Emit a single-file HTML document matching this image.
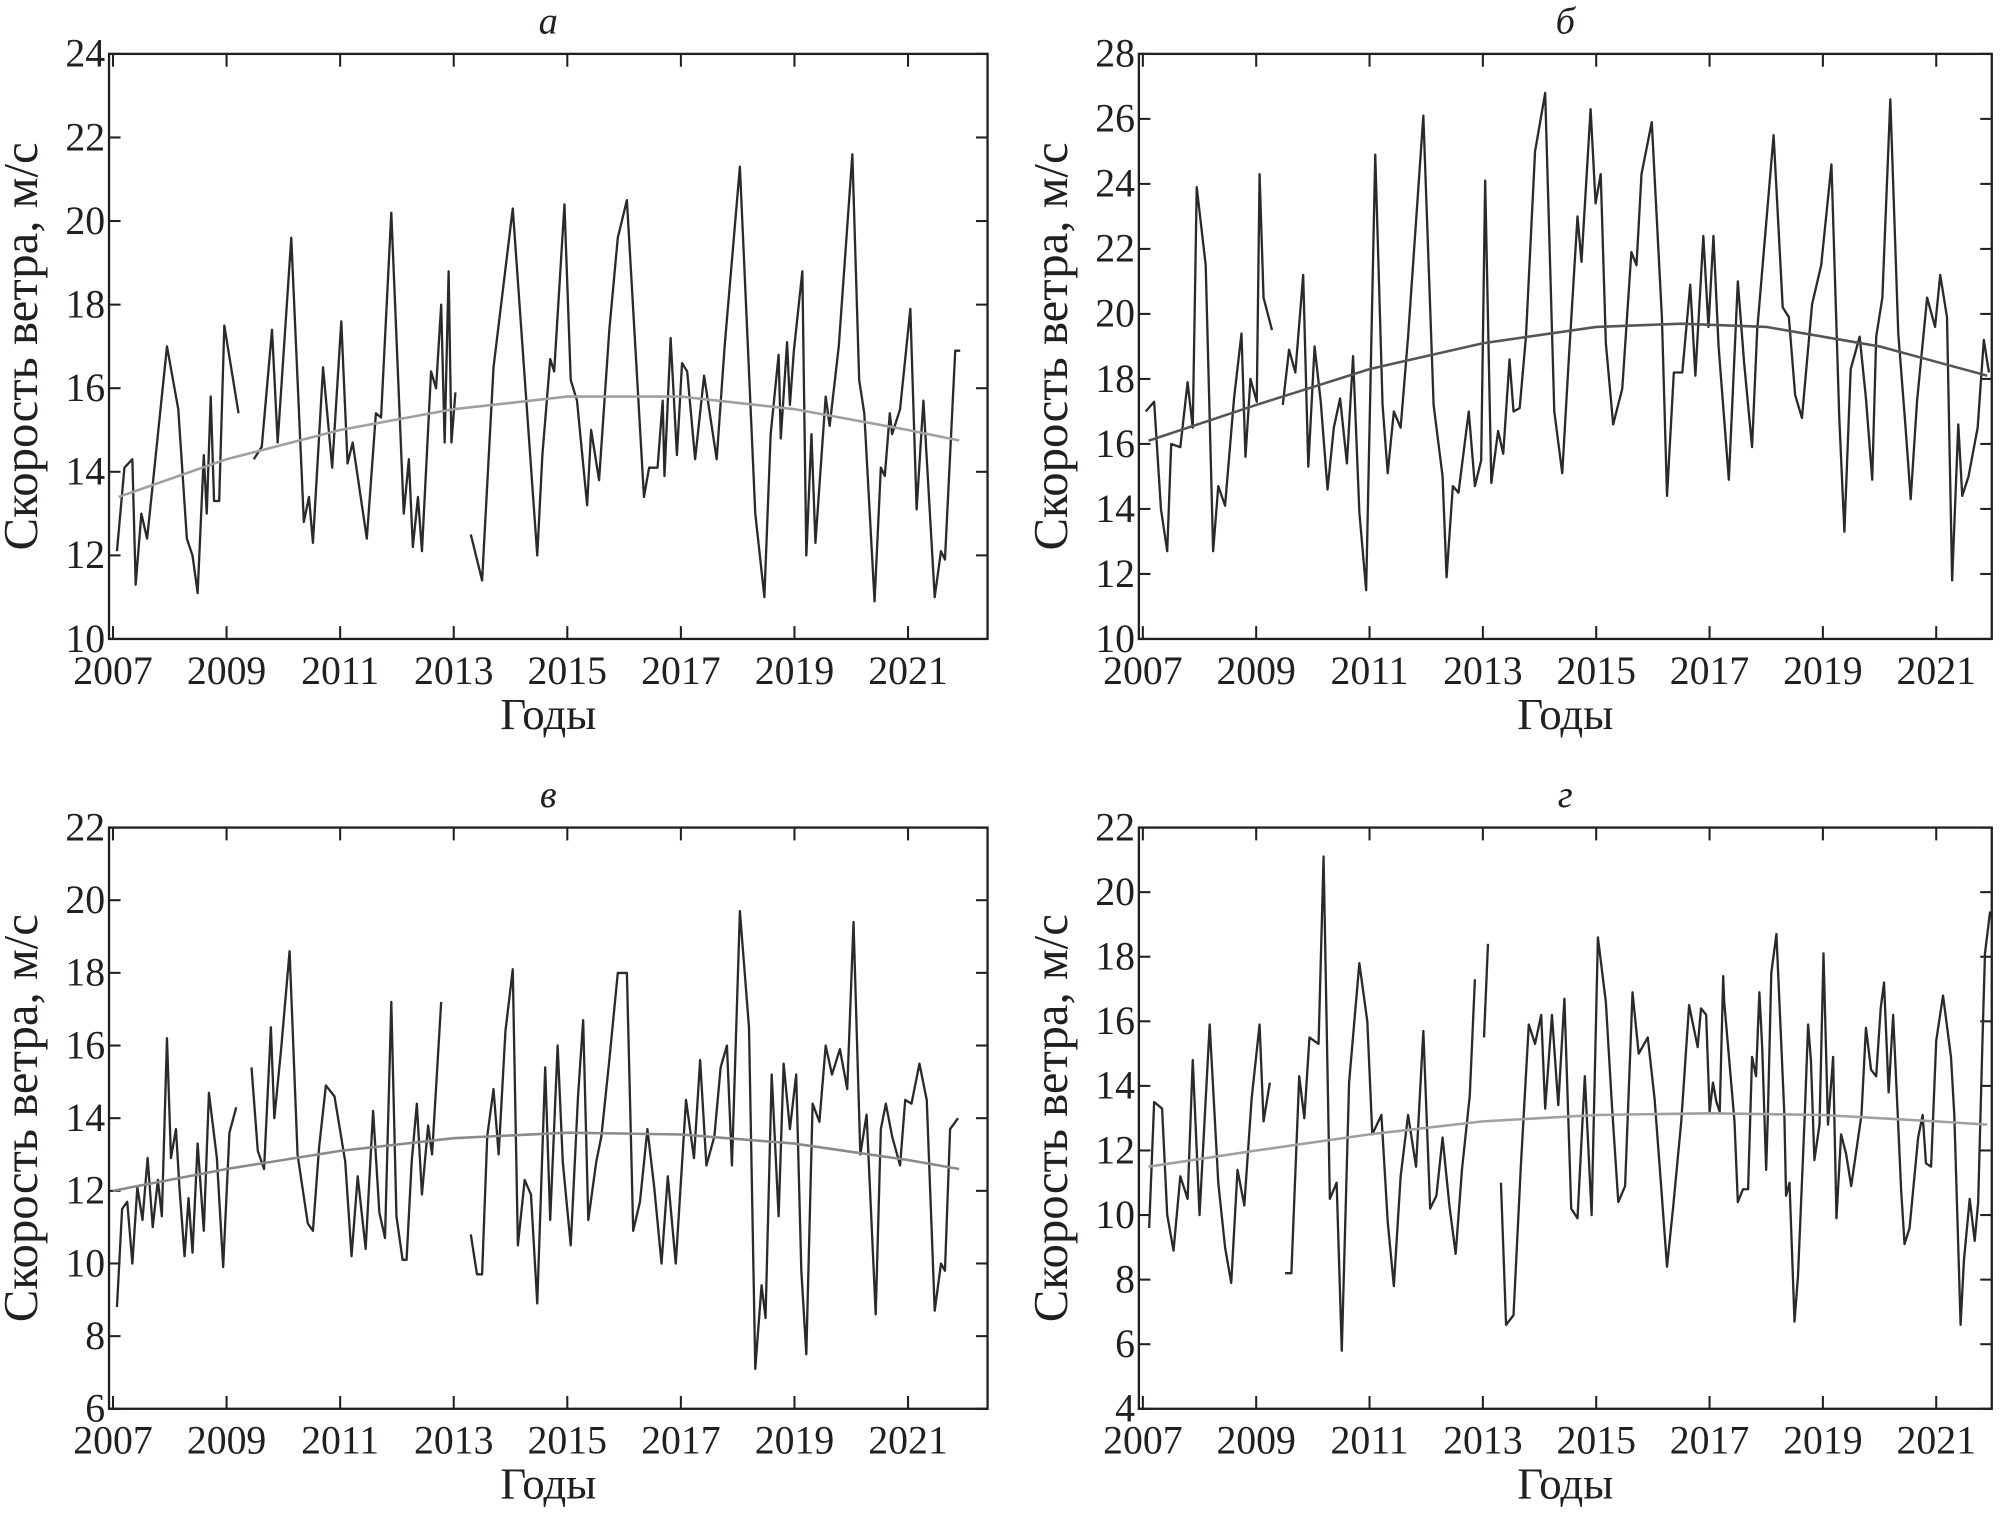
<!DOCTYPE html>
<html><head><meta charset="utf-8"><style>
html,body{margin:0;padding:0;background:#fff}
svg{display:block}
text{font-family:"Liberation Serif",serif;fill:#231f20}
</style></head><body>
<svg id="chart" width="2011" height="1514" viewBox="0 0 1568 1180" preserveAspectRatio="none" xmlns="http://www.w3.org/2000/svg"></svg>
<script>
// years offset from 2007, wind speed m/s; null = gap
const seriesA=[[0.07,12.1],[0.2,14.1],[0.34,14.3],[0.4,11.3],[0.5,13.0],[0.6,12.4],[0.7,13.7],[0.95,17.0],[1.15,15.5],[1.3,12.4],[1.4,12.0],[1.49,11.1],[1.6,14.4],[1.65,13.0],[1.72,15.8],[1.78,13.3],[1.87,13.3],[1.96,17.5],[2.21,15.4],null,[2.48,14.3],[2.62,14.6],[2.8,17.4],[2.9,14.7],[3.14,19.6],[3.36,12.8],[3.45,13.4],[3.52,12.3],[3.7,16.5],[3.86,14.1],[4.02,17.6],[4.13,14.2],[4.22,14.7],[4.47,12.4],[4.63,15.4],[4.72,15.3],[4.9,20.2],[5.12,13.0],[5.21,14.3],[5.28,12.2],[5.37,13.4],[5.44,12.1],[5.6,16.4],[5.69,16.0],[5.78,18.0],[5.84,14.7],[5.91,18.8],[5.96,14.7],[6.03,15.9],null,[6.3,12.5],[6.5,11.4],[6.7,16.5],[7.04,20.3],[7.47,12.0],[7.56,14.4],[7.7,16.7],[7.77,16.4],[7.95,20.4],[8.06,16.2],[8.17,15.7],[8.35,13.2],[8.42,15.0],[8.56,13.8],[8.74,17.4],[8.89,19.6],[9.05,20.5],[9.35,13.4],[9.44,14.1],[9.59,14.1],[9.68,15.7],[9.71,13.9],[9.82,17.2],[9.93,14.4],[10.02,16.6],[10.11,16.4],[10.25,14.3],[10.41,16.3],[10.63,14.3],[10.77,17.0],[11.04,21.3],[11.31,13.0],[11.47,11.0],[11.58,14.9],[11.72,16.8],[11.76,14.8],[11.87,17.1],[11.92,15.6],[11.99,16.9],[12.14,18.8],[12.21,12.0],[12.3,14.9],[12.37,12.3],[12.55,15.8],[12.62,15.1],[12.78,17.0],[13.02,21.6],[13.14,16.2],[13.23,15.4],[13.41,10.9],[13.52,14.1],[13.59,13.9],[13.68,15.4],[13.72,14.9],[13.86,15.5],[14.04,17.9],[14.15,13.1],[14.27,15.7],[14.47,11.0],[14.58,12.1],[14.65,11.9],[14.83,16.9],[14.92,16.9]];
const trendA=[[0.1,13.4],[2,14.3],[4,15.0],[6,15.5],[8,15.8],[10,15.8],[12,15.5],[14,15.0],[14.9,14.75]];
const seriesB=[[0.05,17.0],[0.2,17.3],[0.32,14.0],[0.43,12.7],[0.5,16.0],[0.66,15.9],[0.79,17.9],[0.88,16.5],[0.95,23.9],[1.11,21.5],[1.24,12.7],[1.33,14.7],[1.45,14.1],[1.61,17.4],[1.74,19.4],[1.81,15.6],[1.9,18.0],[2.01,17.3],[2.06,24.3],[2.13,20.5],[2.28,19.5],null,[2.47,17.2],[2.58,18.9],[2.69,18.2],[2.83,21.2],[2.92,15.3],[3.03,19.0],[3.14,17.3],[3.26,14.6],[3.37,16.5],[3.48,17.4],[3.6,15.4],[3.71,18.7],[3.82,13.9],[3.94,11.5],[4.1,24.9],[4.23,17.2],[4.32,15.1],[4.43,17.0],[4.55,16.5],[4.68,19.3],[4.95,26.1],[5.13,17.2],[5.29,15.0],[5.36,11.9],[5.47,14.7],[5.57,14.5],[5.75,17.0],[5.86,14.7],[5.97,15.5],[6.04,24.1],[6.15,14.8],[6.27,16.4],[6.36,15.7],[6.47,18.6],[6.54,17.0],[6.65,17.1],[6.76,19.3],[6.92,25.0],[7.1,26.8],[7.26,17.0],[7.4,15.1],[7.51,18.4],[7.67,23.0],[7.74,21.6],[7.9,26.3],[7.99,23.4],[8.08,24.3],[8.17,19.1],[8.3,16.6],[8.46,17.7],[8.62,21.9],[8.71,21.5],[8.8,24.3],[8.98,25.9],[9.16,19.9],[9.25,14.4],[9.37,18.2],[9.52,18.2],[9.66,20.9],[9.75,18.1],[9.89,22.4],[9.98,19.6],[10.07,22.4],[10.16,19.0],[10.34,14.9],[10.5,21.0],[10.61,18.5],[10.75,15.9],[10.84,19.5],[11.13,25.5],[11.29,20.2],[11.4,19.9],[11.51,17.5],[11.63,16.8],[11.81,20.3],[11.97,21.5],[12.15,24.6],[12.29,16.8],[12.38,13.3],[12.49,18.3],[12.65,19.3],[12.76,17.4],[12.87,14.9],[12.94,19.3],[13.05,20.5],[13.19,26.6],[13.33,19.4],[13.46,16.5],[13.55,14.3],[13.66,17.3],[13.84,20.5],[13.98,19.6],[14.07,21.2],[14.19,19.9],[14.28,11.8],[14.39,16.6],[14.46,14.4],[14.57,15.0],[14.73,16.5],[14.84,19.2],[14.93,18.2]];
const trendB=[[0.1,16.1],[2,17.2],[4,18.3],[6,19.1],[8,19.6],[9.5,19.7],[11,19.6],[13,19.0],[14.9,18.1]];
const seriesC=[[0.07,8.8],[0.16,11.5],[0.25,11.7],[0.34,10.0],[0.43,12.1],[0.52,11.2],[0.61,12.9],[0.7,11.0],[0.79,12.3],[0.86,11.3],[0.95,16.2],[1.02,12.9],[1.11,13.7],[1.17,12.1],[1.26,10.2],[1.33,11.8],[1.4,10.3],[1.49,13.3],[1.6,10.9],[1.69,14.7],[1.83,12.9],[1.94,9.9],[2.05,13.6],[2.17,14.3],null,[2.44,15.4],[2.55,13.1],[2.66,12.6],[2.78,16.5],[2.84,14.0],[2.96,15.9],[3.11,18.6],[3.25,13.0],[3.43,11.1],[3.52,10.9],[3.63,13.2],[3.75,14.9],[3.9,14.6],[4.09,12.8],[4.2,10.2],[4.31,12.4],[4.45,10.4],[4.58,14.2],[4.69,11.4],[4.79,10.7],[4.9,17.2],[4.99,11.3],[5.1,10.1],[5.17,10.1],[5.26,12.8],[5.35,14.4],[5.44,11.9],[5.55,13.8],[5.62,13.0],[5.78,17.2],null,[6.3,10.8],[6.41,9.7],[6.5,9.7],[6.59,13.5],[6.7,14.8],[6.79,13.0],[6.91,16.4],[7.04,18.1],[7.13,10.5],[7.25,12.3],[7.36,11.9],[7.47,8.9],[7.61,15.4],[7.7,11.2],[7.83,16.0],[7.92,12.8],[8.06,10.5],[8.19,14.6],[8.28,16.7],[8.37,11.2],[8.51,12.8],[8.6,13.5],[8.74,15.6],[8.89,18.0],[9.05,18.0],[9.16,10.9],[9.28,11.7],[9.41,13.7],[9.53,12.1],[9.66,10.0],[9.77,12.4],[9.91,10.0],[10.09,14.5],[10.23,12.9],[10.34,15.6],[10.45,12.7],[10.59,13.5],[10.7,15.4],[10.81,16.0],[10.9,12.7],[11.04,19.7],[11.2,16.5],[11.31,7.1],[11.42,9.4],[11.49,8.5],[11.6,15.2],[11.72,11.3],[11.81,15.5],[11.92,13.7],[12.03,15.2],[12.12,9.8],[12.21,7.5],[12.32,14.4],[12.44,13.9],[12.55,16.0],[12.66,15.2],[12.8,15.9],[12.93,14.8],[13.04,19.4],[13.16,13.0],[13.27,14.1],[13.43,8.6],[13.52,13.7],[13.61,14.4],[13.72,13.5],[13.86,12.7],[13.95,14.5],[14.06,14.4],[14.2,15.5],[14.33,14.5],[14.47,8.7],[14.58,10.0],[14.65,9.8],[14.74,13.7],[14.88,14.0]];
const trendC=[[0.0,12.0],[2,12.6],[4,13.1],[6,13.45],[8,13.6],[10,13.55],[12,13.3],[14,12.85],[14.9,12.6]];
const seriesD=[[0.11,9.6],[0.2,13.5],[0.34,13.3],[0.43,10.0],[0.54,8.9],[0.66,11.2],[0.79,10.5],[0.88,14.8],[1.0,10.0],[1.18,15.9],[1.33,11.0],[1.45,9.0],[1.56,7.9],[1.67,11.4],[1.79,10.3],[1.92,13.6],[2.06,15.9],[2.13,12.9],[2.24,14.1],null,[2.51,8.2],[2.62,8.2],[2.76,14.3],[2.85,13.0],[2.94,15.5],[3.1,15.3],[3.19,21.1],[3.3,10.5],[3.42,11.0],[3.51,5.8],[3.64,14.1],[3.82,17.8],[3.96,16.0],[4.05,12.5],[4.21,13.1],[4.32,9.8],[4.43,7.8],[4.55,11.2],[4.68,13.1],[4.82,11.5],[4.95,15.7],[5.07,10.2],[5.18,10.6],[5.29,12.4],[5.41,10.3],[5.52,8.8],[5.63,11.4],[5.77,13.7],[5.86,17.3],null,[6.02,15.5],[6.09,18.4],null,[6.32,11.0],[6.41,6.6],[6.54,6.9],[6.67,11.5],[6.81,15.9],[6.92,15.3],[7.03,16.2],[7.1,13.3],[7.22,16.2],[7.33,13.4],[7.44,16.7],[7.56,10.2],[7.67,9.9],[7.8,14.3],[7.92,10.0],[8.03,18.6],[8.17,16.6],[8.28,13.3],[8.39,10.4],[8.51,10.9],[8.64,16.9],[8.75,15.0],[8.91,15.5],[9.03,13.6],[9.14,11.0],[9.25,8.4],[9.36,10.3],[9.5,12.9],[9.64,16.5],[9.79,15.2],[9.85,16.4],[9.94,16.2],[10.0,13.2],[10.06,14.1],[10.12,13.5],[10.18,13.2],[10.24,17.4],[10.26,16.6],[10.44,12.9],[10.5,10.4],[10.59,10.8],[10.68,10.8],[10.75,14.9],[10.82,14.3],[10.88,16.9],[10.93,15.2],[11.0,11.4],[11.03,13.2],[11.09,17.5],[11.18,18.7],[11.32,13.1],[11.35,10.6],[11.41,11.0],[11.5,6.7],[11.56,8.1],[11.68,13.1],[11.74,15.9],[11.79,14.8],[11.85,11.7],[11.94,12.8],[12.01,18.1],[12.09,12.8],[12.15,14.2],[12.18,14.9],[12.24,9.9],[12.32,12.5],[12.41,11.9],[12.5,10.9],[12.68,13.1],[12.76,15.8],[12.85,14.5],[12.94,14.3],[13.02,16.4],[13.08,17.2],[13.16,13.8],[13.24,16.2],[13.32,13.1],[13.38,10.8],[13.44,9.1],[13.53,9.6],[13.68,12.4],[13.76,13.1],[13.82,11.6],[13.91,11.5],[14.0,15.4],[14.12,16.8],[14.26,14.9],[14.32,13.1],[14.43,6.6],[14.49,8.6],[14.59,10.5],[14.68,9.2],[14.74,10.4],[14.82,15.6],[14.86,18.1],[14.95,19.4]];
const trendD=[[0.1,11.5],[2,12.0],[4,12.5],[6,12.9],[8,13.1],[10,13.15],[12,13.1],[14,12.9],[14.9,12.8]];
const yTicksA=[10,12,14,16,18,20,22,24];
const yTicksB=[10,12,14,16,18,20,22,24,26,28];
const yTicksC=[6,8,10,12,14,16,18,20,22];
const yTicksD=[4,6,8,10,12,14,16,18,20,22];
const xTickLabels=["2007","2009","2011","2013","2015","2017","2019","2021"];

const NS="http://www.w3.org/2000/svg";
const svg=document.getElementById('chart');
function mk(tag,attrs,parent){const e=document.createElementNS(NS,tag);for(const k in attrs)e.setAttribute(k,attrs[k]);(parent||svg).appendChild(e);return e;}

const panels=[
 {id:'a',title:'а',x0:85,x1:770,y0:42,y1:498,t0:-0.07,t1:15.4,yt:yTicksA,s:seriesA,tr:trendA,trc:'#a0a0a0'},
 {id:'b',title:'б',x0:888,x1:1553,y0:42,y1:498,t0:-0.07,t1:14.98,yt:yTicksB,s:seriesB,tr:trendB,trc:'#555'},
 {id:'c',title:'в',x0:85,x1:770,y0:645,y1:1098,t0:-0.07,t1:15.4,yt:yTicksC,s:seriesC,tr:trendC,trc:'#8a8a8a'},
 {id:'d',title:'г',x0:888,x1:1553,y0:645,y1:1098,t0:-0.07,t1:14.98,yt:yTicksD,s:seriesD,tr:trendD,trc:'#a0a0a0'}
];
panels.forEach(p=>{
 const g=mk('g',{});
 
 
 const ymin=p.yt[0],ymax=p.yt[p.yt.length-1];
 const X=t=>p.x0+(t-p.t0)/(p.t1-p.t0)*(p.x1-p.x0);
 const Y=v=>p.y1-(v-ymin)/(ymax-ymin)*(p.y1-p.y0);
 const cx=(p.x0+p.x1)/2;
 const ti=mk('text',{x:cx,y:p.y0-16,'font-size':30,'font-style':'italic','text-anchor':'middle'},g);ti.textContent=p.title;
 
 
 p.yt.forEach(v=>{
  const y=Y(v);
  const t1=mk('line',{x1:p.x0,x2:p.x0+9,y1:y,y2:y,stroke:'#231f20','stroke-width':1.6},g);
  
  
  mk('line',{x1:p.x1,x2:p.x1-9,y1:y,y2:y,stroke:'#231f20','stroke-width':1.6},g);
  const tl=mk('text',{x:p.x0-3,y:y+10,'font-size':31,'text-anchor':'end'},g);tl.textContent=v;
  
  
 });
 xTickLabels.forEach(s=>{
  const x=X(parseInt(s)-2007);
  const t1=mk('line',{x1:x,x2:x,y1:p.y1,y2:p.y1-10,stroke:'#231f20','stroke-width':1.6},g);
  
  
  mk('line',{x1:x,x2:x,y1:p.y0,y2:p.y0+10,stroke:'#231f20','stroke-width':1.6},g);
  const tl=mk('text',{x:x,y:p.y1+35,'font-size':31,'text-anchor':'middle'},g);tl.textContent=s;
  
  
 });
 let d='',pen=false;
 p.s.forEach(pt=>{if(!pt){pen=false;return;}d+=(pen?'L':'M')+X(pt[0]).toFixed(1)+' '+Y(pt[1]).toFixed(1);pen=true;});
 const ln=mk('path',{d:d,fill:'none',stroke:'#2a2a2a','stroke-width':1.8,'stroke-linejoin':'round'},g);
 
 
 let td='';
 p.tr.forEach((pt,i)=>{td+=(i?'L':'M')+X(pt[0]).toFixed(1)+' '+Y(pt[1]).toFixed(1);});
 const tr=mk('path',{d:td,fill:'none',stroke:p.trc,'stroke-width':2},g);
 
 
 const fr=mk('rect',{x:p.x0,y:p.y0,width:p.x1-p.x0,height:p.y1-p.y0,fill:'none',stroke:'#231f20','stroke-width':1.8},g);
 
 
 const xl=mk('text',{x:cx,y:p.y1+70,'font-size':35,'text-anchor':'middle'},g);xl.textContent='Годы';
 
 
 const yc=(p.y0+p.y1)/2,yx=p.x0-56;
 const yl=mk('text',{x:yx,y:yc,'font-size':38,'text-anchor':'middle',transform:`rotate(-90 ${yx} ${yc})`},g);yl.textContent='Скорость ветра, м/с';
 
 
});
</script>
</body></html>
